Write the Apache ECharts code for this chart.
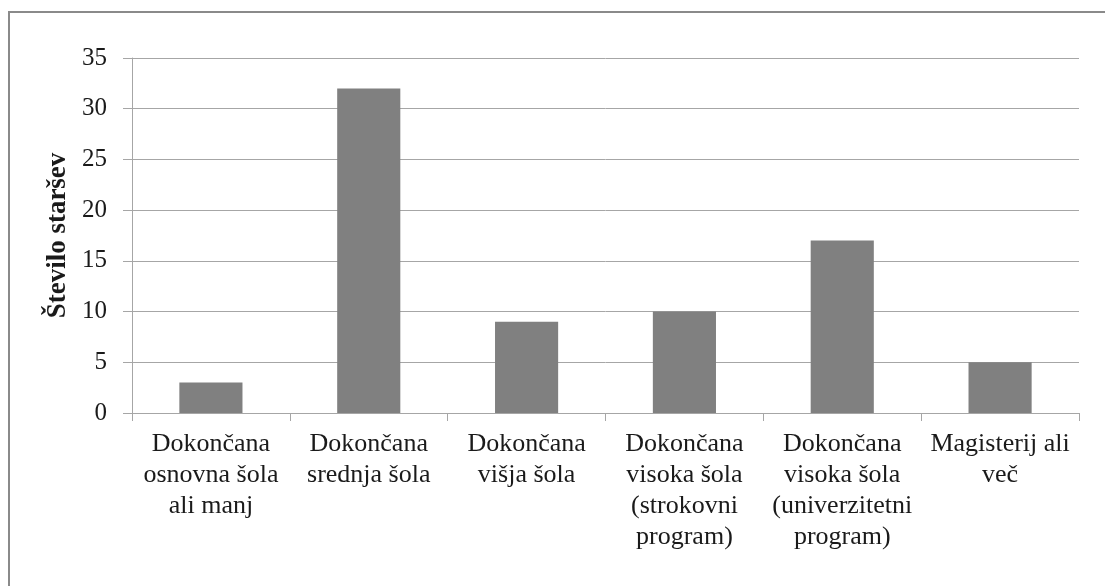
<!DOCTYPE html>
<html>
<head>
<meta charset="utf-8">
<script src="https://cdn.jsdelivr.net/npm/echarts@6/dist/echarts.min.js"></script>
<style>
  html, body { margin: 0; padding: 0; background: #ffffff; }
  #chart { width: 1105px; height: 586px; }
</style>
</head>
<body>
<div id="chart"></div>
<script>
// Education level of parents
const categories = [
  'Dokončana\nosnovna šola\nali manj',
  'Dokončana\nsrednja šola',
  'Dokončana\nvišja šola',
  'Dokončana\nvisoka šola\n(strokovni\nprogram)',
  'Dokončana\nvisoka šola\n(univerzitetni\nprogram)',
  'Magisterij ali\nveč'
];
const counts = [3, 32, 9, 10, 17, 5];
const yAxisTitle = 'Število staršev';

const serif = '"Liberation Serif", "Times New Roman", serif';
const gridGray = '#a6a6a6';

const chart = echarts.init(document.getElementById('chart'), null, { renderer: 'canvas' });
chart.setOption({
  backgroundColor: '#ffffff',
  animation: false,
  graphic: [{
    type: 'rect',
    shape: { x: 9, y: 12, width: 1300, height: 800 },
    style: { fill: 'none', stroke: '#8a8a8a', lineWidth: 2 },
    silent: true
  }],
  grid: { left: 132, right: 26, top: 58, bottom: 173 },
  xAxis: {
    type: 'category',
    data: categories,
    axisLine: { lineStyle: { color: gridGray, width: 1 } },
    axisTick: { show: true, length: 8, lineStyle: { color: gridGray } },
    axisLabel: {
      interval: 0,
      margin: 16,
      fontFamily: serif,
      fontSize: 26,
      lineHeight: 31,
      color: '#1a1a1a',
      align: 'center'
    }
  },
  yAxis: {
    type: 'value',
    min: 0,
    max: 35,
    interval: 5,
    name: yAxisTitle,
    nameLocation: 'middle',
    nameRotate: 90,
    nameGap: 59,
    nameTextStyle: {
      fontFamily: serif,
      fontSize: 27,
      fontWeight: 'bold',
      color: '#1a1a1a'
    },
    axisLine: { show: true, lineStyle: { color: gridGray, width: 1 } },
    axisTick: { show: true, length: 9, lineStyle: { color: gridGray } },
    axisLabel: {
      margin: 25,
      fontFamily: serif,
      fontSize: 25,
      color: '#1a1a1a'
    },
    splitLine: { show: true, lineStyle: { color: gridGray, width: 1 } }
  },
  series: [{
    type: 'bar',
    data: counts,
    barWidth: '40%',
    itemStyle: { color: '#808080' },
    silent: true
  }]
});
</script>
</body>
</html>
